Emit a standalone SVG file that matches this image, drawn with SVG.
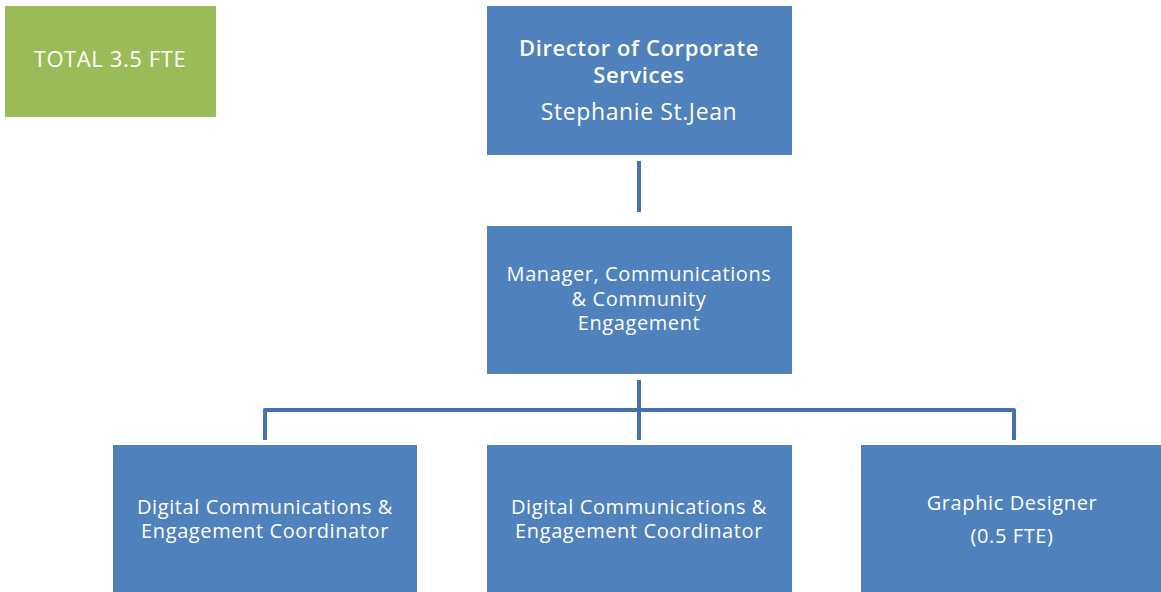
<svg xmlns="http://www.w3.org/2000/svg" width="1161" height="592" viewBox="0 0 1161 592">
  <style>
    .box { fill: #4F81BD; }
    .total { fill: #9BBB59; }
    .lbl { font-family: "Open Sans", "Noto Sans", sans-serif; font-size: 20px; letter-spacing: 0.6px; fill: #FFFFFF; text-anchor: middle; }
    .big { font-size: 22px; }
    .name { font-size: 23px; }
    .bold { font-weight: 600; }
    .link { fill: none; stroke: #4672AC; stroke-width: 4; stroke-linejoin: round; }
  </style>
  <rect width="1161" height="592" fill="#FFFFFF"/>

  <!-- connectors -->
  <g id="connectors">
    <line class="link" x1="639" y1="161" x2="639" y2="212"/>
    <line class="link" x1="639" y1="380" x2="639" y2="440"/>
    <path class="link" d="M265,440 V410 H1014 V440"/>
  </g>

  <g id="total">
    <rect class="total" x="5" y="6" width="211" height="111"/>
    <text class="lbl big" x="110" y="67">TOTAL 3.5 FTE</text>
  </g>

  <g id="director">
    <rect class="box" x="487" y="6" width="305" height="149"/>
    <text class="lbl big bold" x="639" y="56">Director of Corporate</text>
    <text class="lbl big bold" x="639" y="83">Services</text>
    <text class="lbl name" x="639" y="120">Stephanie St.Jean</text>
  </g>

  <g id="manager">
    <rect class="box" x="487" y="226" width="305" height="148"/>
    <text class="lbl" x="639" y="281">Manager, Communications</text>
    <text class="lbl" x="639" y="306">&amp; Community</text>
    <text class="lbl" x="639" y="330">Engagement</text>
  </g>

  <g id="coordinator-1">
    <rect class="box" x="113" y="445" width="304" height="147"/>
    <text class="lbl" x="265" y="514">Digital Communications &amp;</text>
    <text class="lbl" x="265" y="538">Engagement Coordinator</text>
  </g>

  <g id="coordinator-2">
    <rect class="box" x="487" y="445" width="305" height="147"/>
    <text class="lbl" x="639" y="514">Digital Communications &amp;</text>
    <text class="lbl" x="639" y="538">Engagement Coordinator</text>
  </g>

  <g id="graphic-designer">
    <rect class="box" x="861" y="445" width="300" height="147"/>
    <text class="lbl" x="1012" y="510">Graphic Designer</text>
    <text class="lbl" x="1012" y="543">(0.5 FTE)</text>
  </g>
</svg>
